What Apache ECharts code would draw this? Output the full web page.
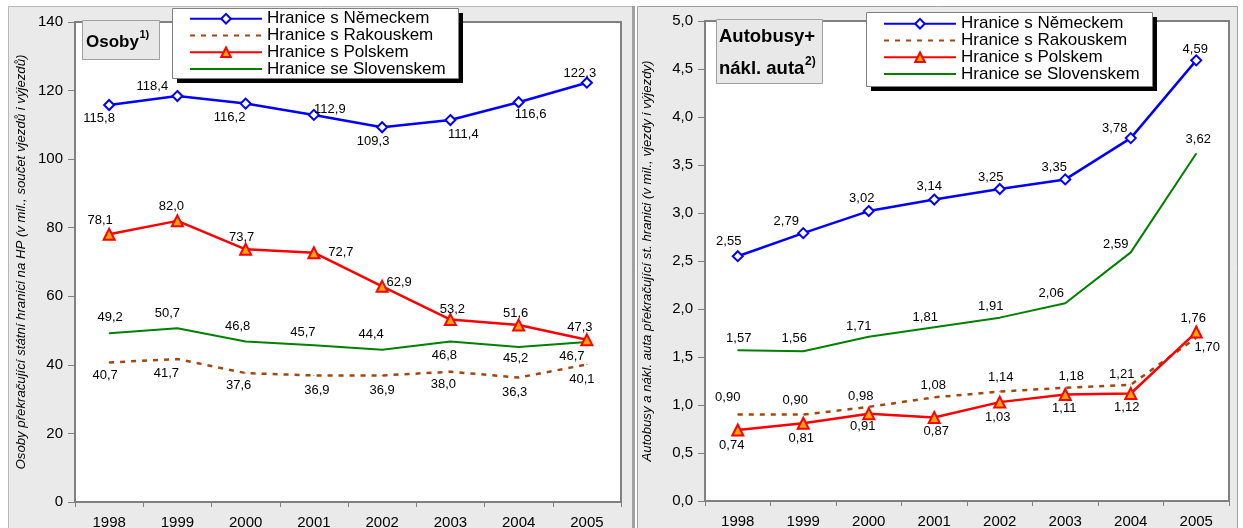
<!DOCTYPE html>
<html>
<head>
<meta charset="utf-8">
<script src="https://cdn.jsdelivr.net/npm/echarts@6/dist/echarts.min.js"></script>
<style>
  html, body { margin: 0; padding: 0; background: #fff; }
  #chart { width: 1243px; height: 528px; }
</style>
</head>
<body>
<div id="chart"></div>
<script>
var years = ['1998', '1999', '2000', '2001', '2002', '2003', '2004', '2005'];
var borders = ['Hranice s Německem', 'Hranice s Rakouskem', 'Hranice s Polskem', 'Hranice se Slovenskem'];

// osoby (v mil.)
var osobyDE = [115.8, 118.4, 116.2, 112.9, 109.3, 111.4, 116.6, 122.3];
var osobyAT = [40.7, 41.7, 37.6, 36.9, 36.9, 38.0, 36.3, 40.1];
var osobyPL = [78.1, 82.0, 73.7, 72.7, 62.9, 53.2, 51.6, 47.3];
var osobySK = [49.2, 50.7, 46.8, 45.7, 44.4, 46.8, 45.2, 46.7];

// autobusy + nakl. auta (v mil.)
var autaDE = [2.55, 2.79, 3.02, 3.14, 3.25, 3.35, 3.78, 4.59];
var autaAT = [0.90, 0.90, 0.98, 1.08, 1.14, 1.18, 1.21, 1.70];
var autaPL = [0.74, 0.81, 0.91, 0.87, 1.03, 1.11, 1.12, 1.76];
var autaSK = [1.57, 1.56, 1.71, 1.81, 1.91, 2.06, 2.59, 3.62];

// osa y: min, max, krok
var osobyAxis = [0, 140, 20];
var autaAxis = [0, 5, 0.5];

// posuny popisku [dx, dy] od bodu
var offOsoby = [
  [[-10, 13], [-25, -10], [-16, 14], [16, -5], [-9, 14], [13, 14], [12, 12], [-7, -9]],
  [[-4, 13], [-11, 14], [-7, 12], [3, 15], [0, 15], [-7, 13], [-4, 15], [-5, 15]],
  [[-9, -14], [-6, -14], [-4, -12], [27, 0], [17, -4], [2, -10], [-3, -12], [-7, -12]],
  [[1, -16], [-10, -15], [-8, -15], [-11, -13], [-11, -15], [-6, 14], [-3, 11], [-15, 15]]
];
var offAuta = [
  [[-9, -15], [-17, -12], [-7, -13], [-5, -13], [-9, -12], [-11, -12], [-16, -10], [-1, -11]],
  [[-10, -17], [-8, -14], [-8, -10], [-1, -12], [1, -14], [6, -11], [-9, -10], [11, 10]],
  [[-6, 15], [-2, 15], [-6, 13], [2, 14], [-2, 15], [-1, 14], [-4, 14], [-3, -14]],
  [[1, -12], [-9, -13], [-10, -10], [-9, -10], [-9, -11], [-14, -10], [-15, -8], [2, -14]]
];

var FONT = '"Liberation Sans", Arial, sans-serif';
var brown = '#a3470f';

var looks = [
  { symbol: 'diamond', symbolSize: 10, itemStyle: { color: '#fff', borderColor: '#0000ff', borderWidth: 2 }, lineStyle: { color: '#0000ff', width: 2.5 } },
  { symbol: 'circle', symbolSize: 1, itemStyle: { color: brown }, lineStyle: { color: brown, width: 2.5, type: [5, 6] } },
  { symbol: 'triangle', symbolSize: 11, itemStyle: { color: '#ffa500', borderColor: '#ff0000', borderWidth: 2 }, lineStyle: { color: '#ff0000', width: 2.5 } },
  { symbol: 'circle', symbolSize: 1, itemStyle: { color: '#008000' }, lineStyle: { color: '#008000', width: 2 } }
];

function comma(v, dec) {
  return v.toFixed(dec).replace('.', ',');
}

function mk(k, vals, offs, idx, dec) {
  var s = looks[k];
  return {
    name: borders[k],
    type: 'line',
    xAxisIndex: idx,
    yAxisIndex: idx,
    symbol: s.symbol,
    symbolSize: s.symbolSize,
    showSymbol: true,
    itemStyle: s.itemStyle,
    lineStyle: s.lineStyle,
    data: vals.map(function (v, i) {
      return { value: v, label: { offset: offs[i] } };
    }),
    label: {
      show: true,
      position: 'inside',
      color: '#000',
      fontSize: 13,
      fontFamily: FONT,
      textBorderWidth: 0,
      formatter: function (p) { return comma(p.value, dec); }
    },
    emphasis: { disabled: true },
    z: 3
  };
}

var legendData = borders.map(function (b, k) {
  if (k === 1 || k === 3) return { name: b, itemStyle: { opacity: 0 } };
  return { name: b };
});

function legendAt(left, top, padTop) {
  return {
    left: left, top: top, orient: 'vertical',
    itemWidth: 72, itemHeight: 12, itemGap: -0.2,
    padding: [padTop, 0, 0, 17],
    textStyle: { fontSize: 17, fontFamily: FONT, color: '#000' },
    selectedMode: false,
    data: legendData,
    z: 10
  };
}

// ramecek legendy se stinem
function legendBox(x, y, w, h) {
  return [
    { type: 'rect', z: 8, shape: { x: x + 5, y: y + 5, width: w, height: h }, style: { fill: '#000' } },
    { type: 'rect', z: 8, shape: { x: x + 0.5, y: y + 0.5, width: w, height: h }, style: { fill: '#fff', stroke: '#808080', lineWidth: 1 } }
  ];
}

function xAx(idx) {
  return {
    type: 'category', gridIndex: idx, data: years,
    axisLine: { lineStyle: { color: '#808080', width: 2 } },
    axisTick: { show: true, length: 5, lineStyle: { color: '#808080' } },
    axisLabel: { fontSize: 15, fontFamily: FONT, color: '#000', margin: 13 },
    splitLine: { show: false }
  };
}

function yAx(idx, ax, dec, name, gap) {
  return {
    type: 'value', gridIndex: idx, min: ax[0], max: ax[1], interval: ax[2],
    name: name, nameLocation: 'middle', nameGap: gap,
    nameTextStyle: { fontSize: 13.2, fontStyle: 'italic', fontFamily: FONT, color: '#000' },
    axisLine: { show: true, lineStyle: { color: '#808080', width: 2 } },
    axisTick: { show: true, length: 7, lineStyle: { color: '#808080' } },
    axisLabel: { fontSize: 15, fontFamily: FONT, color: '#000', margin: 12,
      formatter: function (v) { return comma(v, dec); } },
    splitLine: { show: false }
  };
}

var chart = echarts.init(document.getElementById('chart'));
chart.setOption({
  animation: false,
  backgroundColor: '#fff',
  grid: [
    { left: 75, top: 22, width: 546, height: 480, outerBoundsMode: 'none', show: true, backgroundColor: '#fff', borderColor: '#808080', borderWidth: 2 },
    { left: 705, top: 21, width: 524, height: 480, outerBoundsMode: 'none', show: true, backgroundColor: '#fff', borderColor: '#808080', borderWidth: 2 }
  ],
  xAxis: [xAx(0), xAx(1)],
  yAxis: [
    yAx(0, osobyAxis, 0, 'Osoby překračující státní hranici na HP (v mil., součet vjezdů i výjezdů)', 47),
    yAx(1, autaAxis, 1, 'Autobusy a nákl. auta překračující st. hranici (v mil., vjezdy i výjezdy)', 51)
  ],
  legend: [legendAt(172, 8, 2.2), legendAt(866, 12, 3.2)],
  series: [
    mk(0, osobyDE, offOsoby[0], 0, 1),
    mk(1, osobyAT, offOsoby[1], 0, 1),
    mk(3, osobySK, offOsoby[3], 0, 1),
    mk(2, osobyPL, offOsoby[2], 0, 1),
    mk(0, autaDE, offAuta[0], 1, 2),
    mk(1, autaAT, offAuta[1], 1, 2),
    mk(3, autaSK, offAuta[3], 1, 2),
    mk(2, autaPL, offAuta[2], 1, 2)
  ],
  graphic: { elements: [
    // pozadi panelu
    { type: 'rect', z: -10, shape: { x: 8.5, y: 6.5, width: 624, height: 540 }, style: { fill: '#eaeaea', stroke: '#b8b8b8', lineWidth: 1 } },
    { type: 'rect', z: -10, shape: { x: 632, y: 6, width: 3, height: 540 }, style: { fill: '#a0a0a0' } },
    { type: 'rect', z: -10, shape: { x: 637.5, y: 6.5, width: 600, height: 540 }, style: { fill: '#eaeaea', stroke: '#a0a0a0', lineWidth: 1 } },
    // Osoby
    { type: 'rect', z: 20, shape: { x: 82.5, y: 20.5, width: 77, height: 39 }, style: { fill: '#e8e8e8', stroke: '#a0a0a0', lineWidth: 1 } },
    { type: 'text', z: 21, style: { x: 86, y: 42, text: 'Osoby', font: 'bold 17px ' + FONT, fill: '#000', textVerticalAlign: 'middle', verticalAlign: 'middle' } },
    { type: 'text', z: 21, style: { x: 139.5, y: 35, text: '1)', font: 'bold 11px ' + FONT, fill: '#000', textVerticalAlign: 'middle', verticalAlign: 'middle' } },
    // Autobusy
    { type: 'rect', z: 20, shape: { x: 716.5, y: 19.5, width: 106, height: 64 }, style: { fill: '#e8e8e8', stroke: '#a0a0a0', lineWidth: 1 } },
    { type: 'text', z: 21, style: { x: 719, y: 37, text: 'Autobusy+', font: 'bold 18.5px ' + FONT, fill: '#000', textVerticalAlign: 'middle', verticalAlign: 'middle' } },
    { type: 'text', z: 21, style: { x: 719, y: 69, text: 'nákl. auta', font: 'bold 18.5px ' + FONT, fill: '#000', textVerticalAlign: 'middle', verticalAlign: 'middle' } },
    { type: 'text', z: 21, style: { x: 805, y: 62, text: '2)', font: 'bold 12px ' + FONT, fill: '#000', textVerticalAlign: 'middle', verticalAlign: 'middle' } }
  ].concat(legendBox(172, 8, 286, 70), legendBox(866, 12, 286, 74)) }
});
</script>
</body>
</html>
